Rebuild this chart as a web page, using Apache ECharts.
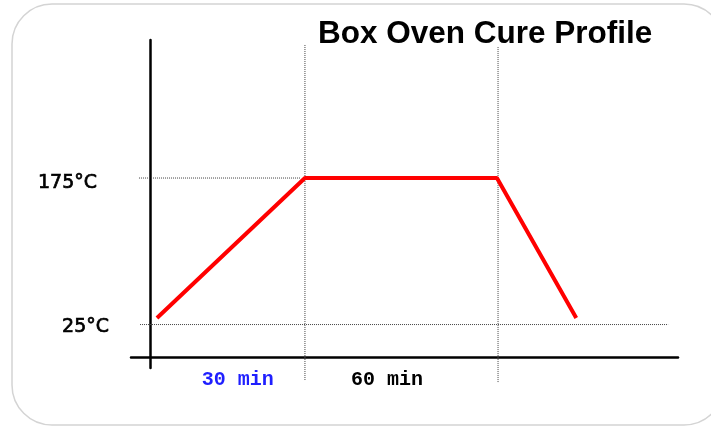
<!DOCTYPE html>
<html><head><meta charset="utf-8">
<script src="https://cdn.jsdelivr.net/npm/echarts@6/dist/echarts.min.js"></script>
<style>html,body{margin:0;padding:0;background:#fff}#c{width:711px;height:426px}</style>
</head><body><div id="c"></div>
<script>
// schematic time units (x) and temperature (y)
const profileTime = [4.75, 31.8, 66.9, 81.4];
const profileTemp = [31.7, 175, 175, 31.7];
const tempTicks = [25, 175];
const tempLabels = ['25°C', '175°C'];
const phaseLabelAt = [19.5, 46.8];
const phaseLabels = ['30 min', '60 min'];

const X_MIN = 0, X_MAX = 100, Y_MIN = -19.5, Y_MAX = 316.3;
const guideStyle = { color: '#444', width: 1, type: [1, 1] };

function hGuide(y, x0, x1) {
  return { type: 'line', data: [[x0, y], [x1, y]], symbol: 'none', clip: false, silent: true,
    lineStyle: guideStyle, z: 1, animation: false };
}
function vGuide(x, y0, y1) {
  return { type: 'line', data: [[x, y0], [x, y1]], symbol: 'none', clip: false, silent: true,
    lineStyle: guideStyle, z: 1, animation: false };
}

const chart = echarts.init(document.getElementById('c'), null, { renderer: 'canvas' });
chart.setOption({
  animation: false,
  backgroundColor: '#fff',
  title: {
    text: 'Box Oven Cure Profile', left: 313, top: 13,
    textStyle: { fontFamily: 'Liberation Sans', fontWeight: 'bold', fontSize: 31.5, color: '#000' }
  },
  graphic: [{
    type: 'rect', z: -10, silent: true,
    shape: { x: 12, y: 4, width: 712, height: 421, r: 40 },
    style: { fill: 'none', stroke: '#d4d4d4', lineWidth: 1.5 }
  }],
  grid: { left: 131, right: 33, top: 40, bottom: 58 },
  xAxis: {
    type: 'value', min: X_MIN, max: X_MAX, offset: -11,
    axisLine: { show: true, onZero: false, lineStyle: { color: '#000', width: 2.5 } },
    axisTick: { show: false }, splitLine: { show: false },
    axisLabel: {
      customValues: phaseLabelAt, margin: 13,
      formatter: function (v) {
        const i = phaseLabelAt.indexOf(v);
        return i < 0 ? '' : (i === 0 ? '{b|' : '{k|') + phaseLabels[i] + '}';
      },
      rich: {
        b: { fontFamily: 'Liberation Mono', fontWeight: 'bold', fontSize: 20, color: '#1f1fff' },
        k: { fontFamily: 'Liberation Mono', fontWeight: 'bold', fontSize: 20, color: '#000' }
      }
    }
  },
  yAxis: {
    type: 'value', min: Y_MIN, max: Y_MAX, offset: -19,
    axisLine: { show: true, onZero: false, lineStyle: { color: '#000', width: 2.5 } },
    axisTick: { show: false }, splitLine: { show: false },
    axisLabel: {
      customValues: tempTicks, margin: 41,
      formatter: function (v) {
        const i = tempTicks.indexOf(v);
        return i < 0 ? '' : (v === 175 ? '{h|' : '{l|') + tempLabels[i] + '}';
      },
      rich: {
        h: { fontFamily: 'DejaVu Sans', fontSize: 19, color: '#000', textBorderColor: '#000', textBorderWidth: 0.7, padding: [10, 12, 0, 0] },
        l: { fontFamily: 'DejaVu Sans', fontSize: 19, color: '#000', textBorderColor: '#000', textBorderWidth: 0.7, padding: [6, 0, 0, 0] }
      }
    }
  },
  series: [
    hGuide(tempTicks[1], 1.46, 30.9),
    hGuide(tempTicks[0], 1.65, 98.2),
    vGuide(profileTime[1], -31.8, 311.2),
    vGuide(profileTime[2] + 0.2, -33.9, 309.2),
    {
      type: 'line', data: profileTime.map((t, i) => [t, profileTemp[i]]),
      symbol: 'none', z: 3, silent: true,
      lineStyle: { color: '#ff0000', width: 4 }
    }
  ]
});
</script></body></html>
